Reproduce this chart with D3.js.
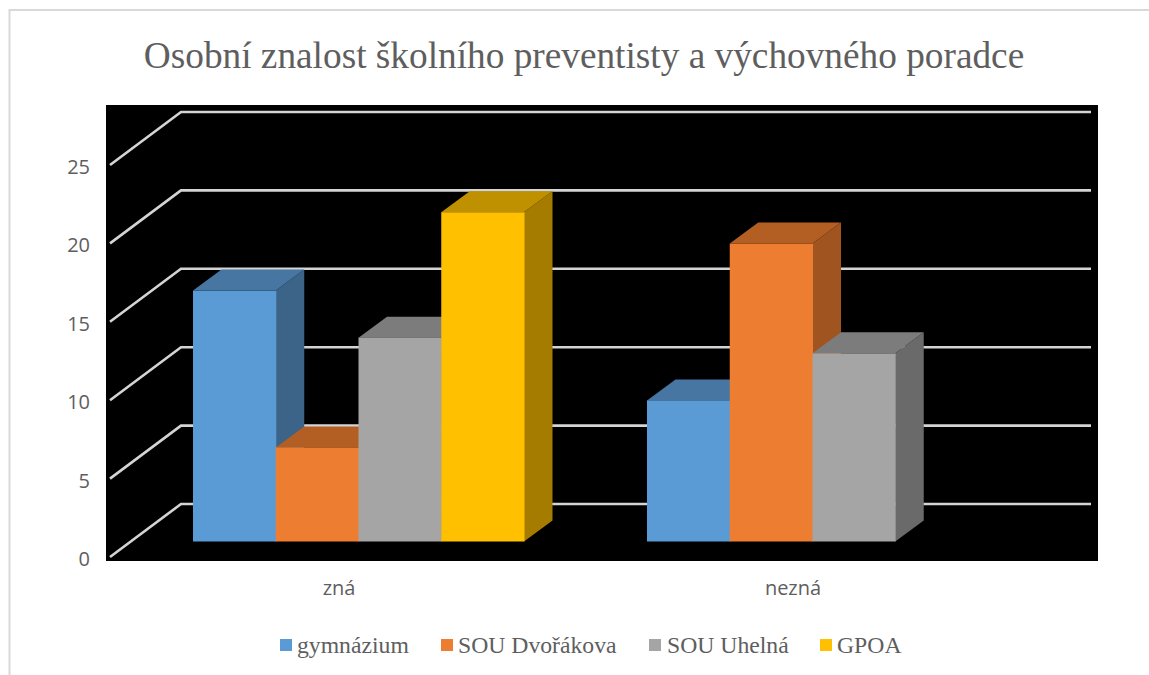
<!DOCTYPE html>
<html><head><meta charset="utf-8">
<script src="https://cdn.jsdelivr.net/npm/d3@7/dist/d3.min.js"></script>
<style>html,body{margin:0;padding:0;background:#fff}svg{display:block}</style>
</head><body><svg id="c" width="1149" height="675"></svg>
<script>
const chartTitle = "Osobní znalost školního preventisty a výchovného poradce";
const categories = ["zná", "nezná"];
const seriesNames = ["gymnázium", "SOU Dvořákova", "SOU Uhelná", "GPOA"];
const gymnazium = [16, 9];
const souDvorakova = [6, 19];
const souUhelna = [13, 12];
const gpoa = [21, null];
const seriesValues = [gymnazium, souDvorakova, souUhelna, gpoa];
const frontColors = ["#5B9BD5", "#ED7D31", "#A5A5A5", "#FFC000"];
const topColors = ["#4676A1", "#B35E22", "#7C7C7C", "#BF9000"];
const sideColors = ["#3C6488", "#A0541F", "#6A6A6A", "#A67C00"];
const yTicks = [0, 5, 10, 15, 20, 25];
const legendSwatchX = [280, 441, 649, 820];
const legendTextX = [297, 458, 667, 837];

const svg = d3.select("#c");
const serif = "'Liberation Serif', serif";
const sans = "'Open Sans', sans-serif";
const ink = "#5E5E5E";

// outer frame
svg.append("path").attr("d", "M1150,10H9.5V676").attr("fill", "none").attr("stroke", "#D9D9D9").attr("stroke-width", 2);
// plot background
svg.append("rect").attr("x", 106).attr("y", 105).attr("width", 992).attr("height", 456).attr("fill", "#000");

svg.append("text").attr("x", 584).attr("y", 67.5).attr("text-anchor", "middle")
  .attr("font-family", serif).attr("font-size", 37.3).attr("fill", ink).text(chartTitle);

const depthX = 28.5, depthY = 21;
const yMax = 25;
const yWall = d3.scaleLinear().domain([0, yMax]).range([504, 112]);
const yFront = d3.scaleLinear().domain([0, yMax]).range([557, 165]);
const yBar = d3.scaleLinear().domain([0, yMax]).range([541.5, 149.5]);
const x0 = d3.scaleBand().domain(categories).range([193, 978]).paddingInner(123 / 454).paddingOuter(0);
const x1 = d3.scaleBand().domain(seriesNames).range([0, x0.bandwidth()]);
const xLabel = d3.scalePoint().domain(categories).range([338.5, 792.5]);

// gridlines on side and back walls
const grid = svg.append("g").attr("fill", "none").attr("stroke", "#D4D4D4").attr("stroke-width", 2.6);
yTicks.forEach(t => {
  grid.append("path").attr("d", d3.line()([[110, yFront(t)], [181, yWall(t)], [1091, yWall(t)]]));
});

// bars, painted left to right
categories.forEach((c, ci) => {
  seriesNames.forEach((s, si) => {
    const v = seriesValues[si][ci];
    if (v == null) return;
    const xl = x0(c) + x1(s), xr = xl + x1.bandwidth();
    const yt = yBar(v), yb = yBar(0);
    const g = svg.append("g");
    g.append("path").attr("fill", sideColors[si]).attr("d",
      d3.line()([[xr, yt], [xr + depthX, yt - depthY], [xr + depthX, yb - depthY], [xr, yb]]) + "Z");
    g.append("path").attr("fill", topColors[si]).attr("d",
      d3.line()([[xl, yt], [xl + depthX, yt - depthY], [xr + depthX, yt - depthY], [xr, yt]]) + "Z");
    g.append("rect").attr("x", xl).attr("y", yt).attr("width", xr - xl + 0.5).attr("height", yb - yt).attr("fill", frontColors[si]);
  });
});

// value axis labels
const yAxis = svg.append("g").attr("transform", "translate(90,2)")
  .call(d3.axisLeft(yFront).tickValues(yTicks).tickSize(0).tickPadding(0));
yAxis.select(".domain").remove();
yAxis.selectAll("text").attr("font-family", sans).attr("font-size", 20).attr("fill", ink);

// category axis labels
const xAxis = svg.append("g").attr("transform", "translate(0,581)")
  .call(d3.axisBottom(xLabel).tickSize(0).tickPadding(0));
xAxis.select(".domain").remove();
xAxis.selectAll("text").attr("font-family", sans).attr("font-size", 20).attr("fill", ink);

// legend
seriesNames.forEach((s, i) => {
  svg.append("rect").attr("x", legendSwatchX[i]).attr("y", 639).attr("width", 12).attr("height", 12).attr("fill", frontColors[i]);
  svg.append("text").attr("x", legendTextX[i]).attr("y", 653).attr("font-family", serif)
    .attr("font-size", 23.7).attr("fill", ink).text(s);
});
</script></body></html>
